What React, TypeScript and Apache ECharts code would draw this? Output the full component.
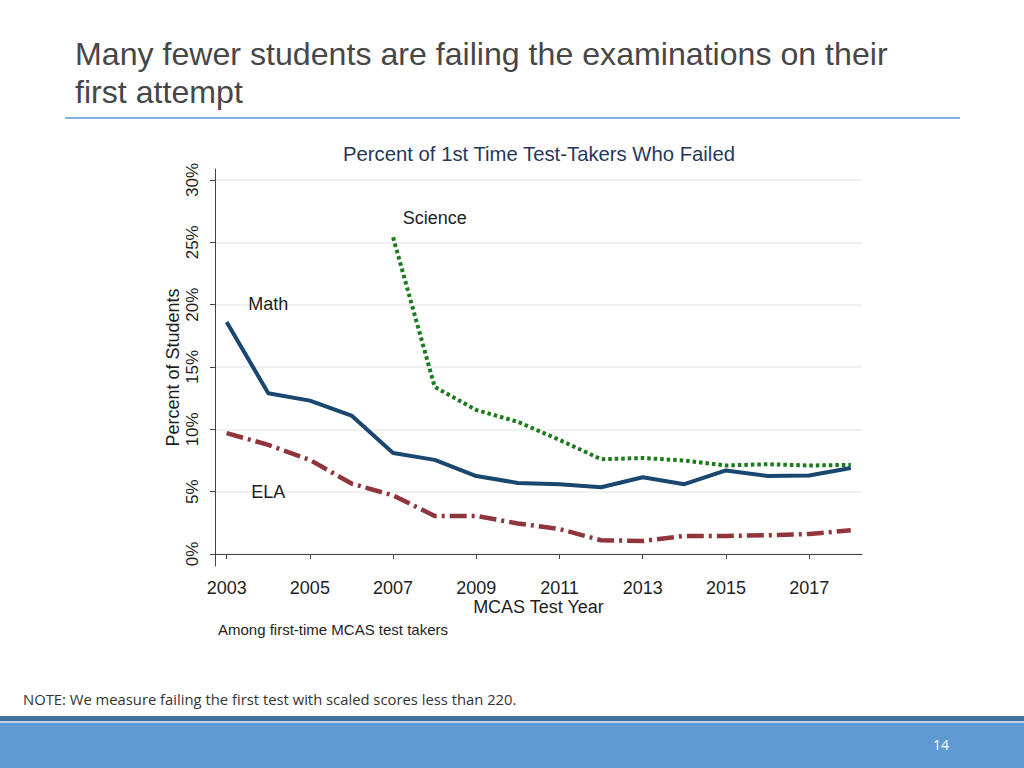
import React, { useEffect, useRef } from "react";
import * as echarts from "echarts";

const years = [2003, 2004, 2005, 2006, 2007, 2008, 2009, 2010, 2011, 2012, 2013, 2014, 2015, 2016, 2017, 2018];
const mathPct = [18.6, 12.9, 12.3, 11.1, 8.1, 7.55, 6.25, 5.7, 5.6, 5.35, 6.15, 5.6, 6.7, 6.25, 6.3, 6.9];
const elaPct = [9.7, 8.75, 7.55, 5.65, 4.7, 3.05, 3.05, 2.45, 2.0, 1.1, 1.05, 1.45, 1.45, 1.5, 1.6, 1.9];
const sciencePct: (number | null)[] = [null, null, null, null, 25.4, 13.4, 11.55, 10.6, 9.15, 7.6, 7.7, 7.5, 7.1, 7.2, 7.1, 7.15];
const xTickYears = [2003, 2005, 2007, 2009, 2011, 2013, 2015, 2017];
const yTicks = [0, 5, 10, 15, 20, 25, 30];

const seriesNames = ["Math", "ELA", "Science"];
const labelAnchors: Record<string, [number, number]> = {
  Math: [2004, 20.05],
  ELA: [2004, 4.97],
  Science: [2008, 26.95],
};

const slideTitle = ["Many fewer students are failing the examinations on their", "first attempt"];
const chartTitle = "Percent of 1st Time Test-Takers Who Failed";
const noteText = "NOTE: We measure failing the first test with scaled scores less than 220.";
const sourceText = "Among first-time MCAS test takers";
const pageNumber = "14";

const pairs = (vals: (number | null)[]) =>
  years.map((y, i) => [y, vals[i]]).filter((p) => p[1] !== null);

const ARIAL = "'Liberation Sans', Arial, sans-serif";
const SLIDE_FONT = "'Open Sans', 'Noto Sans', sans-serif";
const TITLE_FONT = "'Liberation Sans', Arial, sans-serif";
const TITLE_SIZE = 31;
const TITLE_TARGET_WIDTH = 813;

function markLabel(name: string) {
  return {
    symbol: "circle",
    symbolSize: 0,
    silent: true,
    label: {
      show: true,
      position: "inside",
      formatter: name,
      fontFamily: ARIAL,
      fontSize: 18,
      color: "#1e1e1e",
    },
    data: [{ coord: labelAnchors[name] }],
  };
}

function measure(text: string, font: string) {
  const ctx = document.createElement("canvas").getContext("2d");
  if (!ctx) return 0;
  ctx.font = font;
  return ctx.measureText(text).width;
}

export default function App() {
  const ref = useRef<HTMLDivElement>(null);
  useEffect(() => {
    document.body.style.margin = "0";
    const chart = echarts.init(ref.current!, null, { renderer: "svg" });
    const w = measure(slideTitle[0], `${TITLE_SIZE}px ${TITLE_FONT}`);
    const sx = w > 0 ? TITLE_TARGET_WIDTH / w : 0.9;
    const titleStyle = {
      fontFamily: TITLE_FONT,
      fontSize: TITLE_SIZE,
      fill: "#474747",
      verticalAlign: "top",
    };
    chart.setOption({
      animation: false,
      backgroundColor: "#ffffff",
      title: {
        text: chartTitle,
        left: 534,
        top: 139,
        textAlign: "center",
        textStyle: { fontFamily: ARIAL, fontSize: 20.3, fontWeight: "normal", color: "#26385a" },
      },
      grid: { left: 215, right: 162, top: 169, bottom: 202, containLabel: false },
      xAxis: {
        type: "value",
        min: 2002.72,
        max: 2018.27,
        name: "MCAS Test Year",
        nameLocation: "middle",
        nameGap: 32,
        nameMoveOverlap: false,
        nameTextStyle: { fontFamily: ARIAL, fontSize: 18, color: "#1e1e1e" },
        axisLine: { show: true, lineStyle: { color: "#444", width: 1 } },
        axisTick: { show: true, length: 5, customValues: xTickYears, lineStyle: { color: "#444" } },
        axisLabel: {
          customValues: xTickYears,
          fontFamily: ARIAL,
          fontSize: 18,
          color: "#1e1e1e",
          margin: 13,
          formatter: (v: number) => String(v),
        },
        splitLine: { show: false },
      },
      yAxis: {
        type: "value",
        min: -0.963,
        max: 30.88,
        name: "Percent of Students",
        nameLocation: "middle",
        nameGap: 33,
        nameMoveOverlap: false,
        nameTextStyle: { fontFamily: ARIAL, fontSize: 18, color: "#1e1e1e" },
        axisLine: { show: true, lineStyle: { color: "#444", width: 1 } },
        axisTick: { show: true, length: 5, customValues: yTicks, lineStyle: { color: "#444" } },
        axisLabel: {
          customValues: yTicks,
          rotate: 90,
          fontFamily: ARIAL,
          fontSize: 17,
          color: "#1e1e1e",
          margin: 14,
          formatter: (v: number) => v + "%",
        },
        splitLine: { show: true, lineStyle: { color: "#ebebeb", width: 1.5 } },
      },
      series: [
        {
          name: seriesNames[1],
          type: "line",
          data: pairs(elaPct),
          showSymbol: false,
          lineStyle: { color: "#90353b", width: 4.5, type: [17, 5, 3, 5], cap: "butt" },
          markPoint: markLabel("ELA"),
          z: 2,
        },
        {
          name: seriesNames[2],
          type: "line",
          data: pairs(sciencePct),
          showSymbol: false,
          lineStyle: { color: "#1b7a1b", width: 4, type: [3.5, 3], cap: "butt" },
          markPoint: markLabel("Science"),
          z: 3,
        },
        {
          name: seriesNames[0],
          type: "line",
          data: pairs(mathPct),
          showSymbol: false,
          lineStyle: { color: "#1a476f", width: 4 },
          markPoint: markLabel("Math"),
          z: 4,
        },
      ],
      graphic: [
        { type: "text", x: 75, y: 39, scaleX: sx, style: { ...titleStyle, text: slideTitle[0] } },
        { type: "text", x: 75, y: 77, scaleX: sx, style: { ...titleStyle, text: slideTitle[1] } },
        {
          type: "line",
          shape: { x1: 65, y1: 118, x2: 960, y2: 118 },
          style: { stroke: "#5b9bd5", lineWidth: 1.5 },
        },
        {
          type: "text",
          left: 218,
          top: 622,
          style: { text: sourceText, fontFamily: "'Liberation Sans Narrow', 'Arial Narrow', " + ARIAL, fontSize: 15, fill: "#1e1e1e" },
        },
        {
          type: "text",
          left: 23,
          top: 691,
          style: { text: noteText, fontFamily: SLIDE_FONT, fontSize: 14.8, fill: "#333333" },
        },
        { type: "rect", shape: { x: 0, y: 716, width: 1024, height: 5 }, style: { fill: "#44709d" } },
        { type: "rect", shape: { x: 0, y: 721, width: 1024, height: 2 }, style: { fill: "#bcd3ea" } },
        { type: "rect", shape: { x: 0, y: 723, width: 1024, height: 45 }, style: { fill: "#5f9bd2" } },
        {
          type: "text",
          left: 933,
          top: 737,
          style: { text: pageNumber, fontFamily: SLIDE_FONT, fontSize: 14, fill: "#ffffff" },
        },
      ],
    });
    return () => chart.dispose();
  }, []);
  return <div ref={ref} style={{ width: 1024, height: 768 }} />;
}
